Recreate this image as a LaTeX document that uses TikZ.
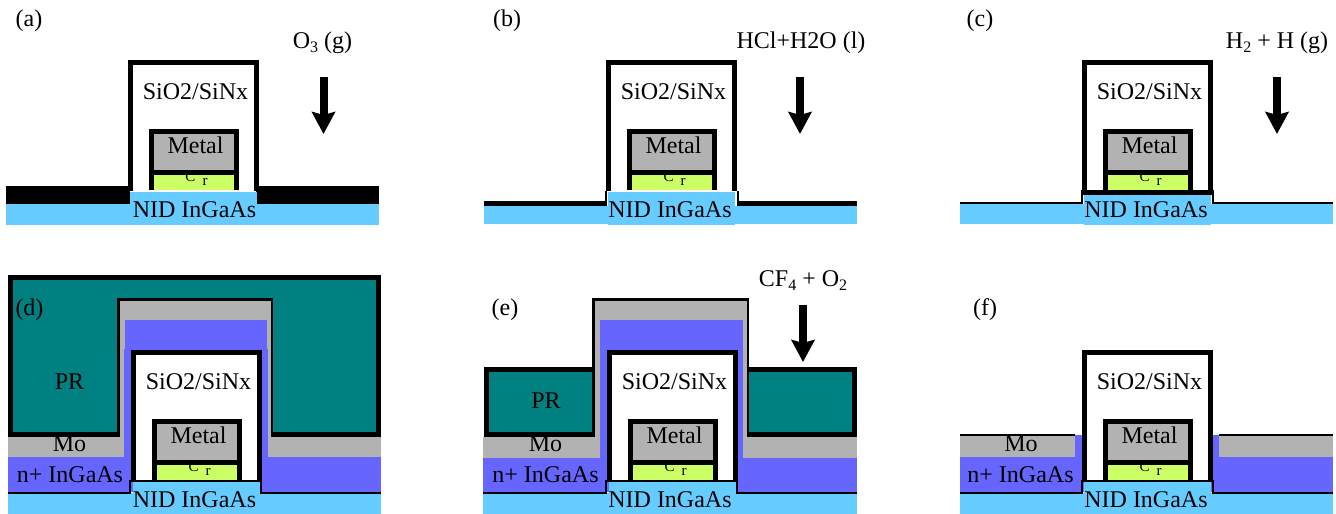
\documentclass[tikz,border=0pt]{standalone}
\usepackage{fontspec}
\setmainfont{Liberation Serif}
\usetikzlibrary{arrows.meta}

\definecolor{nidblue}{HTML}{66CCFF}
\definecolor{nplus}{HTML}{6666FF}
\definecolor{mogray}{HTML}{B2B2B2}
\definecolor{crgreen}{HTML}{CCFF66}
\definecolor{prteal}{HTML}{008080}

\newcommand{\subtxt}[1]{\raisebox{-4pt}{\fontsize{16}{16}\selectfont #1}}

\tikzset{
	lbl/.style={anchor=base,inner sep=0pt,font=\fontsize{24}{28}\selectfont},
	crlbl/.style={anchor=base,inner sep=0pt,font=\fontsize{15}{16}\selectfont},
	wall/.style={line width=5pt,black},
	thinwall/.style={line width=2.5pt,black},
	hairwall/.style={line width=2pt,black},
	gasarrow/.style={line width=8pt,black,-{Stealth[width=23pt,length=22pt,inset=3pt]}}
}

% the gate with its oxide cap: name, x shift, y shift, x of the NID label
\newcommand{\gatestack}[4]{
	\begin{scope}[shift={(#2,#3)}]
		\fill[nidblue] (130,191.5) rectangle (257,224.5);
		\draw[wall,fill=white] (130.5,191)--(130.5,62.5)--(256.5,62.5)--(256.5,191);
		\fill[mogray] (151.5,131.5) rectangle (236.5,172.5);
		\fill[crgreen] (151.5,172.5) rectangle (236.5,190);
		\node (#1C)[crlbl] at (190.5,181) {C};
		\node (#1r)[crlbl] at (205,185) {r};
		\draw[wall] (151.5,190)--(151.5,131.5)--(236.5,131.5)--(236.5,190);
		\draw[wall] (151.5,172.5)--(236.5,172.5);
		\node (#1ox)[lbl] at (195.5,99) {SiO2/SiNx};
		\node (#1metal)[lbl] at (195.5,153) {Metal};
		\node (#1nid)[lbl] at (#4,217) {NID InGaAs};
	\end{scope}
}

\begin{document}
\begin{tikzpicture}[x=1pt,y=-1pt]
	\useasboundingbox (0,0) rectangle (1336,514);
	
	% (a)
	\fill[nidblue] (6,204) rectangle (379,224.5);
	\fill[black] (6,186) rectangle (130,204);
	\fill[black] (256,186) rectangle (379,204);
	\gatestack{a}{0}{0}{194.5}
	\node (tagA)[lbl] at (29,26) {(a)};
	\node (gasA)[lbl] at (322.5,48) {O\subtxt{3} (g)};
	\coordinate (topA) at (323.5,77);
	\coordinate (tipA) at (323.5,134);
	\draw[gasarrow] (topA)--(tipA);
	
	% (b)
	\fill[nidblue] (484,206) rectangle (857,223.5);
	\draw[wall] (484,203.5)--(606,203.5);
	\draw[wall] (737.5,203.5)--(857,203.5);
	\gatestack{b}{478}{0}{192}
	\draw[hairwall] (606,191)--(606,206);
	\draw[hairwall] (737.5,191)--(737.5,206);
	\node (tagB)[lbl] at (507,26) {(b)};
	\node (gasB)[lbl] at (801,48) {HCl+H2O (l)};
	\coordinate (topB) at (800,77);
	\coordinate (tipB) at (800,134);
	\draw[gasarrow] (topB)--(tipB);
	
	% (c)
	\fill[nidblue] (960,204) rectangle (1333,223.5);
	\gatestack{c}{954}{0}{192}
	\draw[hairwall] (960,203)--(1081.5,203)--(1081.5,192.5);
	\draw[hairwall] (1213,192.5)--(1213,203)--(1333,203);
	\draw[wall,line width=4.5pt] (1081,192.5)--(1213.5,192.5);
	\node (tagC)[lbl] at (980,26) {(c)};
	\node (gasC)[lbl] at (1277,48) {H\subtxt{2} + H (g)};
	\coordinate (topC) at (1277,77);
	\coordinate (tipC) at (1277,134);
	\draw[gasarrow] (topC)--(tipC);
	
	% (d)
	\fill[nidblue] (8,493) rectangle (381,514);
	\fill[mogray] (8,436) rectangle (381,457);
	\fill[mogray] (118,299) rectangle (272,457);
	\fill[nplus] (8,457) rectangle (381,492);
	\fill[nplus] (125,320) rectangle (267,350);
	\fill[nplus] (124,349) rectangle (268,457);
	\fill[prteal] (10,277)--(379,277)--(379,435)--(272,435)--(272,299.5)--(118,299.5)--(118,435)--(10,435)--cycle;
	\draw[wall] (118,434.5)--(10.5,434.5)--(10.5,277.5)--(378.5,277.5)--(378.5,434.5)--(272,434.5);
	\draw[thinwall] (118.5,436.5)--(118.5,299.5)--(272,299.5)--(272,436.5);
	\gatestack{d}{3}{290}{191.5}
	\draw[hairwall] (8,493)--(130,493)--(130,481)--(261,481)--(261,493)--(381,493);
	\node (tagD)[lbl] at (29.5,315) {(d)};
	\node (prD)[lbl] at (69.5,389) {PR};
	\node (moD)[lbl] at (69.5,451) {Mo};
	\node (nD)[lbl] at (70,482) {n+ InGaAs};
	
	% (e)
	\fill[nidblue] (483,493) rectangle (857,514);
	\fill[mogray] (483,437) rectangle (857,458);
	\fill[mogray] (593,299) rectangle (749,458);
	\fill[nplus] (483,458) rectangle (857,492);
	\fill[nplus] (600,320) rectangle (743,458);
	\fill[prteal] (486,369.5) rectangle (593,435);
	\fill[prteal] (748,369.5) rectangle (855,435);
	\draw[wall] (593,434.5)--(486.5,434.5)--(486.5,369.5)--(593,369.5);
	\draw[wall] (748,434.5)--(854.5,434.5)--(854.5,369.5)--(748,369.5);
	\draw[thinwall] (593.5,436.5)--(593.5,299.5)--(748,299.5)--(748,436.5);
	\gatestack{e}{479}{290}{191}
	\draw[hairwall] (483,493)--(606,493)--(606,481)--(736.5,481)--(736.5,493)--(857,493);
	\node (tagE)[lbl] at (505,315) {(e)};
	\node (prE)[lbl] at (546,408) {PR};
	\node (moE)[lbl] at (545.5,451) {Mo};
	\node (nE)[lbl] at (545.5,482) {n+ InGaAs};
	\node (gasE)[lbl] at (803,286) {CF\subtxt{4} + O\subtxt{2}};
	\coordinate (topE) at (803,305);
	\coordinate (tipE) at (803,362);
	\draw[gasarrow] (topE)--(tipE);
	
	% (f)
	\fill[nidblue] (960,493) rectangle (1333,514);
	\fill[mogray] (960,435) rectangle (1075,457);
	\fill[mogray] (1219,435) rectangle (1333,457);
	\fill[nplus] (960,457) rectangle (1333,492);
	\fill[nplus] (1075,435) rectangle (1083,457);
	\fill[nplus] (1212,435) rectangle (1219,457);
	\draw[hairwall] (960,435)--(1075,435);
	\draw[hairwall] (1219,435)--(1333,435);
	\gatestack{f}{954}{290}{192}
	\draw[hairwall] (960,493)--(1082,493)--(1082,481)--(1212.5,481)--(1212.5,493)--(1333,493);
	\node (tagF)[lbl] at (985,315) {(f)};
	\node (moF)[lbl] at (1021,451) {Mo};
	\node (nF)[lbl] at (1020.5,482) {n+ InGaAs};
\end{tikzpicture}
\end{document}
